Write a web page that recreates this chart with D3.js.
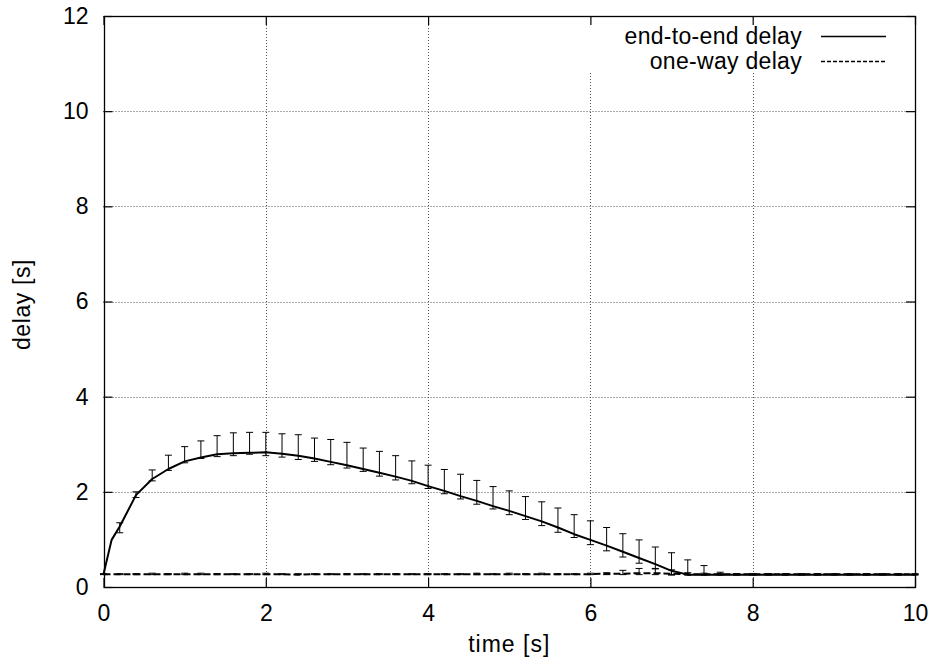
<!DOCTYPE html>
<html>
<head>
<meta charset="utf-8">
<script src="https://cdn.jsdelivr.net/npm/d3@7"></script>
<style>
  body { margin: 0; background: #fff; }
  svg { display: block; font-family: "Liberation Sans", Arial, sans-serif; }
</style>
</head>
<body>
<svg id="chart" width="936" height="669"></svg>
<script>
'use strict';

// sample times [s]
var time = [0, 0.2, 0.4, 0.6, 0.8, 1.0, 1.2, 1.4, 1.6, 1.8, 2.0, 2.2, 2.4, 2.6, 2.8, 3.0, 3.2, 3.4, 3.6, 3.8,
  4.0, 4.2, 4.4, 4.6, 4.8, 5.0, 5.2, 5.4, 5.6, 5.8, 6.0, 6.2, 6.4, 6.6, 6.8, 7.0, 7.2, 7.4, 7.6, 7.8,
  8.0, 8.2, 8.4, 8.6, 8.8, 9.0, 9.2, 9.4, 9.6, 9.8, 10.0];

// end-to-end delay: mean, lower and upper bar ends
var e2eMean = [0.27, 1.27, 1.93, 2.27, 2.48, 2.64, 2.72, 2.79, 2.81, 2.82, 2.83, 2.80, 2.76, 2.70, 2.63, 2.56, 2.48, 2.40, 2.32, 2.23,
  2.12, 2.02, 1.91, 1.81, 1.70, 1.60, 1.49, 1.38, 1.25, 1.11, 0.99, 0.87, 0.74, 0.61, 0.48, 0.34, 0.26, 0.26, 0.26, 0.26,
  0.26, 0.26, 0.26, 0.26, 0.26, 0.26, 0.26, 0.26, 0.26, 0.26, 0.26];
var e2eLow = [0.27, 1.14, 1.88, 2.23, 2.45, 2.61, 2.70, 2.74, 2.76, 2.79, 2.76, 2.73, 2.68, 2.64, 2.57, 2.50, 2.43, 2.33, 2.25, 2.17,
  2.07, 1.96, 1.85, 1.74, 1.64, 1.52, 1.42, 1.29, 1.15, 1.04, 0.89, 0.76, 0.63, 0.50, 0.39, 0.25, 0.25, 0.25, 0.25, 0.25,
  0.25, 0.25, 0.25, 0.25, 0.25, 0.25, 0.25, 0.25, 0.25, 0.25, 0.25];
var e2eHigh = [0.27, 1.35, 2.00, 2.46, 2.77, 2.95, 3.07, 3.18, 3.24, 3.25, 3.25, 3.22, 3.20, 3.13, 3.10, 3.04, 2.92, 2.85, 2.76, 2.65,
  2.56, 2.47, 2.37, 2.24, 2.11, 2.02, 1.90, 1.79, 1.66, 1.52, 1.39, 1.25, 1.12, 0.99, 0.84, 0.72, 0.57, 0.45, 0.31, 0.28,
  0.27, 0.27, 0.27, 0.27, 0.27, 0.27, 0.27, 0.27, 0.27, 0.27, 0.27];
// the mean line has one extra early sample
var e2eEarlyTime = 0.1;
var e2eEarlyValue = 0.99;

// one-way delay
var owMean = [0.27, 0.27, 0.27, 0.27, 0.27, 0.27, 0.27, 0.27, 0.27, 0.27, 0.27, 0.27, 0.26, 0.27, 0.27, 0.27, 0.27, 0.27, 0.27, 0.27,
  0.27, 0.27, 0.27, 0.27, 0.27, 0.27, 0.27, 0.27, 0.27, 0.27, 0.27, 0.28, 0.28, 0.29, 0.29, 0.28, 0.27, 0.27, 0.27, 0.27,
  0.27, 0.27, 0.27, 0.27, 0.27, 0.27, 0.27, 0.27, 0.27, 0.27, 0.27];
var owLow = [0.26, 0.26, 0.26, 0.26, 0.26, 0.26, 0.26, 0.26, 0.26, 0.26, 0.26, 0.26, 0.26, 0.26, 0.26, 0.26, 0.26, 0.26, 0.26, 0.26,
  0.26, 0.26, 0.26, 0.26, 0.26, 0.26, 0.26, 0.26, 0.26, 0.26, 0.26, 0.26, 0.26, 0.26, 0.26, 0.26, 0.26, 0.26, 0.26, 0.26,
  0.26, 0.26, 0.26, 0.26, 0.26, 0.26, 0.26, 0.26, 0.26, 0.26, 0.26];
var owHigh = [0.28, 0.28, 0.28, 0.29, 0.28, 0.29, 0.29, 0.28, 0.28, 0.28, 0.29, 0.28, 0.28, 0.28, 0.28, 0.28, 0.28, 0.28, 0.28, 0.28,
  0.28, 0.28, 0.28, 0.29, 0.28, 0.29, 0.28, 0.29, 0.28, 0.28, 0.29, 0.30, 0.35, 0.39, 0.38, 0.36, 0.30, 0.29, 0.28, 0.28,
  0.28, 0.28, 0.28, 0.28, 0.28, 0.28, 0.28, 0.28, 0.28, 0.28, 0.28];

var xTicks = [0, 2, 4, 6, 8, 10];
var yTicks = [0, 2, 4, 6, 8, 10, 12];
var seriesNames = ['end-to-end delay', 'one-way delay'];

var margin = {top: 16, right: 21, bottom: 82, left: 103.5};
var width = 936, height = 669;

var svg = d3.select('#chart');

var x = d3.scaleLinear().domain([0, 10]).range([margin.left, width - margin.right]);
var y = d3.scaleLinear().domain([0, 12]).range([height - margin.bottom, margin.top]);

var fontSize = 23;
var tickLen = 9;

// grid
var grid = svg.append('g')
  .attr('stroke', '#555')
  .attr('stroke-width', 1)
  .attr('stroke-dasharray', '1,2');

grid.selectAll('line.gx')
  .data(xTicks.slice(1, -1))
  .enter().append('line')
  .attr('class', 'gx')
  .attr('x1', function(d) { return Math.round(x(d)) + 0.5; })
  .attr('x2', function(d) { return Math.round(x(d)) + 0.5; })
  .attr('y1', y(0))
  .attr('y2', y(12));

grid.selectAll('line.gy')
  .data(yTicks.slice(1, -1))
  .enter().append('line')
  .attr('class', 'gy')
  .attr('x1', x(0))
  .attr('x2', x(10))
  .attr('y1', function(d) { return Math.round(y(d)) + 0.5; })
  .attr('y2', function(d) { return Math.round(y(d)) + 0.5; });

// legend background hides the grid behind the key
svg.append('rect')
  .attr('x', 585)
  .attr('y', y(12) + 1)
  .attr('width', x(10) - 586)
  .attr('height', 55)
  .attr('fill', '#fff');

// frame
svg.append('rect')
  .attr('x', Math.round(x(0)) + 0.5)
  .attr('y', Math.round(y(12)) + 0.5)
  .attr('width', Math.round(x(10)) - Math.round(x(0)))
  .attr('height', Math.round(y(0)) - Math.round(y(12)))
  .attr('fill', 'none')
  .attr('stroke', '#000')
  .attr('stroke-width', 1.3);

// axes with mirrored inward ticks
svg.append('g')
  .attr('transform', 'translate(0,' + y(0) + ')')
  .call(d3.axisBottom(x).tickValues(xTicks).tickSizeInner(-tickLen).tickSizeOuter(0).tickPadding(18))
  .call(function(g) { g.select('.domain').remove(); });

svg.append('g')
  .attr('transform', 'translate(0,' + y(12) + ')')
  .call(d3.axisTop(x).tickValues(xTicks).tickSizeInner(-tickLen).tickSizeOuter(0).tickFormat(''))
  .call(function(g) { g.select('.domain').remove(); });

svg.append('g')
  .attr('transform', 'translate(' + x(0) + ',0)')
  .call(d3.axisLeft(y).tickValues(yTicks).tickSizeInner(-tickLen).tickSizeOuter(0).tickPadding(15))
  .call(function(g) { g.select('.domain').remove(); });

svg.append('g')
  .attr('transform', 'translate(' + x(10) + ',0)')
  .call(d3.axisRight(y).tickValues(yTicks).tickSizeInner(-tickLen).tickSizeOuter(0).tickFormat(''))
  .call(function(g) { g.select('.domain').remove(); });

svg.selectAll('.tick line').attr('stroke', '#000').attr('stroke-width', 1.2);
svg.selectAll('.tick text')
  .attr('fill', '#000')
  .style('font-size', fontSize + 'px')
  .style('font-family', '"Liberation Sans", Arial, sans-serif');

// axis titles
svg.append('text')
  .attr('x', (x(0) + x(10)) / 2)
  .attr('y', 652)
  .attr('text-anchor', 'middle')
  .style('font-size', fontSize + 'px')
  .style('letter-spacing', '1px')
  .text('time [s]');

svg.append('text')
  .attr('transform', 'translate(30,' + (y(6) + 3) + ') rotate(-90)')
  .attr('text-anchor', 'middle')
  .style('font-size', fontSize + 'px')
  .style('letter-spacing', '0.6px')
  .text('delay [s]');

// data
var e2e = time.map(function(t, i) {
  return {t: t, v: e2eMean[i], lo: e2eLow[i], hi: e2eHigh[i]};
});
var ow = time.map(function(t, i) {
  return {t: t, v: owMean[i], lo: owLow[i], hi: owHigh[i]};
});
var e2eLinePts = e2e.slice(0, 1)
  .concat([{t: e2eEarlyTime, v: e2eEarlyValue}])
  .concat(e2e.slice(1));

var line = d3.line()
  .x(function(d) { return x(d.t); })
  .y(function(d) { return y(d.v); });

var capW = 3.5;

function errorBars(data, cls)
{
  var g = svg.append('g')
    .attr('class', cls)
    .attr('stroke', '#000')
    .attr('stroke-width', 1)
    .attr('fill', 'none');

  g.selectAll('path')
    .data(data)
    .enter().append('path')
    .attr('d', function(d) {
      var cx = x(d.t), y1 = y(d.lo), y2 = y(d.hi);
      return 'M' + cx + ',' + y1 + 'V' + y2
        + 'M' + (cx - capW) + ',' + y1 + 'H' + (cx + capW)
        + 'M' + (cx - capW) + ',' + y2 + 'H' + (cx + capW);
    });
}

errorBars(e2e, 'e2e-bars');
errorBars(ow, 'ow-bars');

svg.append('path')
  .datum(ow)
  .attr('d', line)
  .attr('fill', 'none')
  .attr('stroke', '#000')
  .attr('stroke-width', 2)
  .attr('stroke-dasharray', '7,3');

svg.append('path')
  .datum(e2eLinePts)
  .attr('d', line)
  .attr('fill', 'none')
  .attr('stroke', '#000')
  .attr('stroke-width', 2)
  .attr('stroke-linejoin', 'round');

// key
var key = svg.append('g');
var keyRows = [36, 61];

key.selectAll('text')
  .data(seriesNames)
  .enter().append('text')
  .attr('x', 802)
  .attr('y', function(d, i) { return keyRows[i] + 8; })
  .attr('text-anchor', 'end')
  .style('font-size', fontSize + 'px')
  .style('letter-spacing', '0.3px')
  .text(function(d) { return d; });

key.selectAll('line')
  .data(seriesNames)
  .enter().append('line')
  .attr('x1', 821)
  .attr('x2', 886)
  .attr('y1', function(d, i) { return keyRows[i] + 0.5; })
  .attr('y2', function(d, i) { return keyRows[i] + 0.5; })
  .attr('stroke', '#000')
  .attr('stroke-width', 1.5)
  .attr('stroke-dasharray', function(d, i) { return i ? '4,2' : null; });
</script>
</body>
</html>
